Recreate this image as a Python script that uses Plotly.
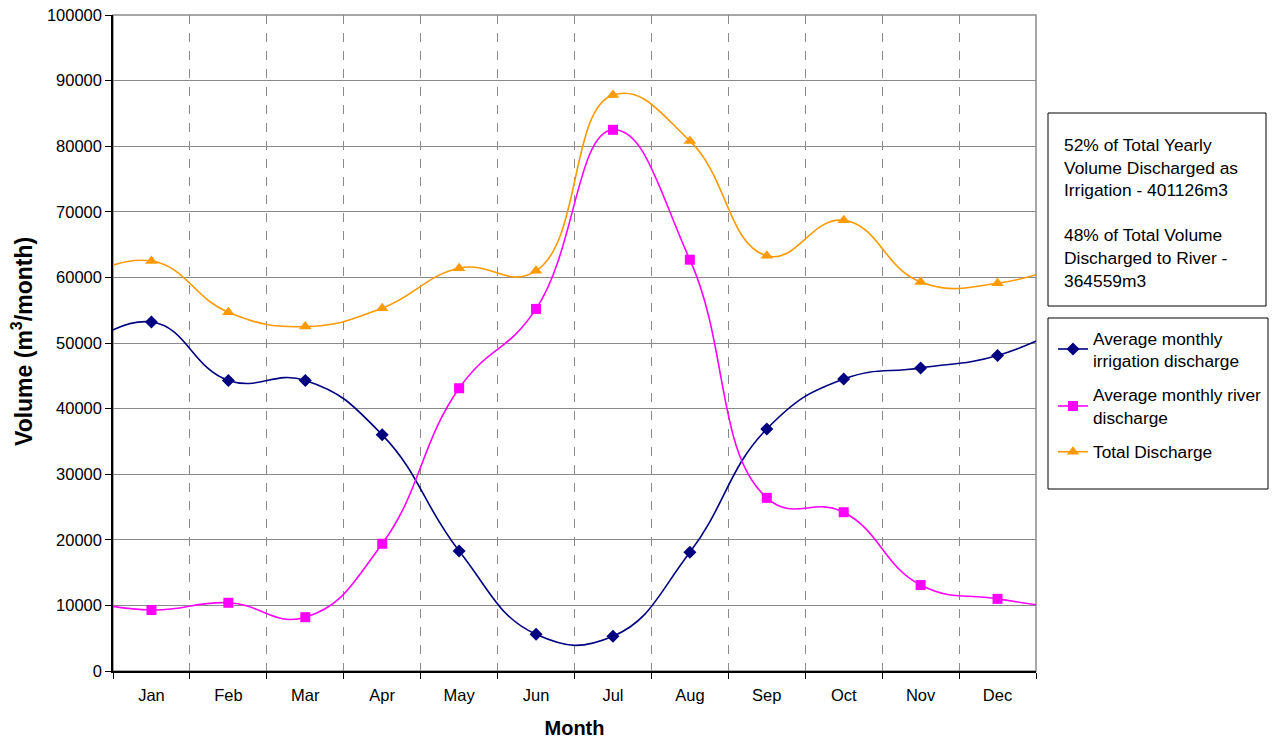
import plotly.graph_objects as go

months = ["Jan", "Feb", "Mar", "Apr", "May", "Jun", "Jul", "Aug", "Sep", "Oct", "Nov", "Dec"]
irrigation = [53200, 44300, 44300, 36000, 18300, 5600, 5300, 18100, 36900, 44500, 46200, 48100]
river = [9300, 10400, 8200, 19400, 43100, 55200, 82500, 62700, 26400, 24200, 13100, 11000]
total = [62500, 54700, 52500, 55300, 61400, 61000, 87800, 80800, 63300, 68700, 59300, 59100]

series_names = ["Average monthly<br>irrigation discharge",
                "Average monthly river<br>discharge",
                "Total Discharge"]
colors = ["#000080", "#FF00FF", "#FF9900"]
symbols = ["diamond", "square", "triangle-up"]
marker_sizes = [10, 10, 11]

note_text = ("52% of Total Yearly<br>Volume Discharged as<br>Irrigation - 401126m3<br><br>"
             "48% of Total Volume<br>Discharged to River -<br>364559m3")
y_title = "<b>Volume (m<sup>3</sup>/month)</b>"

FONT = "Liberation Sans, Arial, sans-serif"
W, H = 1273, 740
L, R, T, B = 113, 1036, 15, 671
PW, PH = R - L, B - T


def px_x(x):
    return (x - L) / PW


def px_y(y):
    return (B - y) / PH


# positions 1..12 for months; wrap neighbours (Dec before Jan, Jan after Dec)
# so the smoothed curve continues to the plot edges as in the original
x_pos = list(range(0, 14))

fig = go.Figure()
for i, (vals, name, col, sym, ms) in enumerate(zip([irrigation, river, total], series_names,
                                                   colors, symbols, marker_sizes)):
    y = [vals[-1]] + vals + [vals[0]]
    fig.add_trace(go.Scatter(
        x=x_pos, y=y, name=name, mode="lines+markers", legendgroup=f"g{i}",
        line=dict(color=col, width=1.6, shape="spline", smoothing=1.3),
        marker=dict(symbol=sym, size=ms, color=col),
    ))

fig.update_layout(
    width=W, height=H,
    margin=dict(l=L, r=W - R, t=T, b=H - B, autoexpand=False),
    paper_bgcolor="white", plot_bgcolor="white",
    font=dict(family=FONT, size=16.5, color="black"),
    showlegend=True,
    legend=dict(x=px_x(1053), y=px_y(320), xanchor="left", yanchor="top",
                font=dict(size=17.3, family=FONT), borderwidth=0,
                bgcolor="rgba(0,0,0,0)", traceorder="grouped", tracegroupgap=9,
                itemwidth=30),
    xaxis=dict(
        range=[0.5, 12.5], tickvals=list(range(1, 13)), ticktext=months,
        ticks="", showgrid=False, zeroline=False, automargin=False,
        showline=True, linecolor="black", linewidth=1.5,
        tickfont=dict(size=16.5), ticklabelstandoff=8,
        minor=dict(tick0=0.5, dtick=1, ticks="outside", ticklen=6, tickcolor="black",
                   showgrid=True, gridcolor="#8a8a8a", griddash="dash", gridwidth=1),
        title=dict(text="<b>Month</b>", font=dict(size=20), standoff=18),
    ),
    yaxis=dict(
        range=[0, 100000], dtick=10000, tickformat="d",
        ticks="outside", ticklen=6, tickcolor="black", automargin=False,
        showgrid=True, gridcolor="#8a8a8a", gridwidth=1, zeroline=False,
        showline=True, linecolor="black", linewidth=1.5,
        tickfont=dict(size=16.5),
    ),
    shapes=[
        dict(type="rect", xref="paper", yref="paper", x0=0, x1=1, y0=0, y1=1,
             line=dict(color="#8a8a8a", width=1.5), layer="below"),
        dict(type="rect", xref="paper", yref="paper",
             x0=px_x(1048), x1=px_x(1266), y0=px_y(306), y1=px_y(113),
             line=dict(color="black", width=1)),
        dict(type="rect", xref="paper", yref="paper",
             x0=px_x(1048), x1=px_x(1268), y0=px_y(489), y1=px_y(318),
             line=dict(color="black", width=1)),
    ],
    annotations=[
        dict(text=note_text, xref="paper", yref="paper",
             x=px_x(1062), y=px_y(133), xanchor="left", yanchor="top",
             align="left", showarrow=False, font=dict(size=17.4, family=FONT)),
        dict(text=y_title, xref="paper", yref="paper", textangle=-90,
             x=px_x(22), y=px_y(342), xanchor="center", yanchor="middle",
             showarrow=False, font=dict(size=23, family=FONT)),
    ],
)

fig.write_html("out.html", config={"displayModeBar": False},
               post_script="document.body.style.margin='0';document.body.style.overflow='hidden';")
